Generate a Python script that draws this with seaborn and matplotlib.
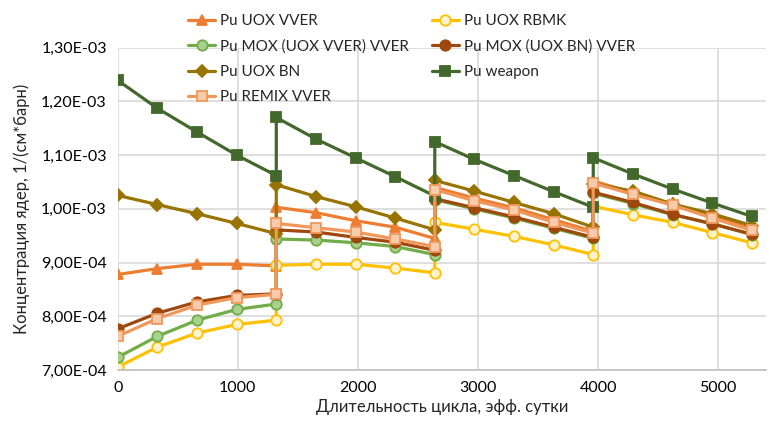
import matplotlib
matplotlib.use("Agg")
import matplotlib.pyplot as plt
import matplotlib.ticker as mticker
import seaborn as sns

# effective days, cycle boundaries repeated (end of one cycle / start of next)
days = [0, 330, 660, 990, 1320, 1320, 1650, 1980, 2310, 2640,
        2640, 2970, 3300, 3630, 3960, 3960, 4290, 4620, 4950, 5280]

pu_uox_vver = [8.78e-4, 8.89e-4, 8.97e-4, 8.97e-4, 8.94e-4,
               1.003e-3, 9.93e-4, 9.78e-4, 9.66e-4, 9.45e-4,
               1.040e-3, 1.020e-3, 1.002e-3, 9.80e-4, 9.58e-4,
               1.052e-3, 1.030e-3, 1.009e-3, 9.86e-4, 9.64e-4]
pu_uox_rbmk = [7.06e-4, 7.43e-4, 7.69e-4, 7.85e-4, 7.93e-4,
               8.95e-4, 8.97e-4, 8.97e-4, 8.90e-4, 8.81e-4,
               9.75e-4, 9.62e-4, 9.49e-4, 9.33e-4, 9.15e-4,
               1.005e-3, 9.89e-4, 9.75e-4, 9.56e-4, 9.37e-4]
pu_mox_vver = [7.24e-4, 7.63e-4, 7.93e-4, 8.13e-4, 8.23e-4,
               9.44e-4, 9.42e-4, 9.37e-4, 9.30e-4, 9.15e-4,
               1.017e-3, 1.000e-3, 9.83e-4, 9.64e-4, 9.45e-4,
               1.029e-3, 1.010e-3, 9.89e-4, 9.73e-4, 9.52e-4]
pu_mox_bn = [7.77e-4, 8.06e-4, 8.27e-4, 8.39e-4, 8.42e-4,
             9.61e-4, 9.57e-4, 9.47e-4, 9.38e-4, 9.23e-4,
             1.019e-3, 1.002e-3, 9.85e-4, 9.66e-4, 9.47e-4,
             1.031e-3, 1.012e-3, 9.90e-4, 9.72e-4, 9.53e-4]
pu_uox_bn = [1.025e-3, 1.008e-3, 9.91e-4, 9.73e-4, 9.54e-4,
             1.045e-3, 1.023e-3, 1.004e-3, 9.83e-4, 9.61e-4,
             1.053e-3, 1.033e-3, 1.012e-3, 9.91e-4, 9.66e-4,
             1.047e-3, 1.033e-3, 1.009e-3, 9.91e-4, 9.69e-4]
pu_weapon = [1.239e-3, 1.187e-3, 1.143e-3, 1.100e-3, 1.062e-3,
             1.170e-3, 1.130e-3, 1.095e-3, 1.060e-3, 1.024e-3,
             1.125e-3, 1.092e-3, 1.062e-3, 1.032e-3, 1.003e-3,
             1.095e-3, 1.065e-3, 1.037e-3, 1.011e-3, 9.86e-4]
pu_remix_vver = [7.63e-4, 7.96e-4, 8.21e-4, 8.35e-4, 8.41e-4,
                 9.73e-4, 9.65e-4, 9.57e-4, 9.44e-4, 9.30e-4,
                 1.036e-3, 1.015e-3, 9.98e-4, 9.75e-4, 9.55e-4,
                 1.048e-3, 1.027e-3, 1.007e-3, 9.83e-4, 9.60e-4]

labels = ["Pu UOX VVER", "Pu UOX RBMK", "Pu MOX (UOX VVER) VVER",
          "Pu MOX (UOX BN) VVER", "Pu UOX BN", "Pu weapon", "Pu REMIX VVER"]
series = [pu_uox_vver, pu_uox_rbmk, pu_mox_vver, pu_mox_bn,
          pu_uox_bn, pu_weapon, pu_remix_vver]
# line colour, marker, marker face, marker edge
styles = [
    ("#ED7D31", "^", "#ED7D31", "#ED7D31"),
    ("#FFC000", "o", "#FFF2CC", "#FFC000"),
    ("#70AD47", "o", "#A9D18E", "#70AD47"),
    ("#9E480E", "o", "#9E480E", "#9E480E"),
    ("#997300", "D", "#997300", "#997300"),
    ("#43682B", "s", "#43682B", "#43682B"),
    ("#F1975A", "s", "#F8CBAD", "#F1975A"),
]

sns.set_style("whitegrid")
plt.rcParams["font.family"] = ["Lato", "DejaVu Sans"]

fig = plt.figure(figsize=(7.7, 4.25), dpi=100)
ax = fig.add_axes([0.153, 0.129, 0.842, 0.759])

for lab, vals, (c, m, fc, ec) in zip(labels, series, styles):
    ms = 6 if m == "D" else 7.5
    sns.lineplot(x=days, y=vals, ax=ax, sort=False, estimator=None,
                 color=c, linewidth=2.3, marker=m, markersize=ms,
                 markerfacecolor=fc, markeredgecolor=ec, markeredgewidth=1.3,
                 label=lab)

ax.set_xlim(0, 5400)
ax.set_ylim(7.0e-4, 1.3e-3)
ax.set_xticks([0, 1000, 2000, 3000, 4000, 5000])
ax.set_yticks([7.0e-4, 8.0e-4, 9.0e-4, 1.0e-3, 1.1e-3, 1.2e-3, 1.3e-3])
ax.yaxis.set_major_formatter(mticker.FuncFormatter(
    lambda v, p: f"{v:.2E}".replace(".", ",")))
ax.grid(True, color="#D9D9D9", linewidth=1.2)
for s in ["left", "right", "top"]:
    ax.spines[s].set_visible(False)
ax.spines["bottom"].set_color("#BFBFBF")
ax.spines["bottom"].set_linewidth(1.2)
ax.tick_params(axis="both", labelsize=11.5, colors="#000000", length=0, pad=8)
ax.set_xlabel("Длительность цикла, эфф. сутки", fontsize=12, labelpad=3)
ax.set_ylabel("Концентрация ядер, 1/(см*барн)", fontsize=12, labelpad=8)

ax.get_legend().remove()
h, l = ax.get_legend_handles_labels()
order = [0, 2, 4, 6, 1, 3, 5]
fig.legend([h[i] for i in order], [l[i] for i in order], ncol=2,
           loc="upper left", bbox_to_anchor=(0.236, 0.981), frameon=False,
           fontsize=11, handlelength=1.8, labelspacing=0.74,
           columnspacing=1.5, handletextpad=0.3, borderaxespad=0)

fig.savefig("out.png", dpi=100)
